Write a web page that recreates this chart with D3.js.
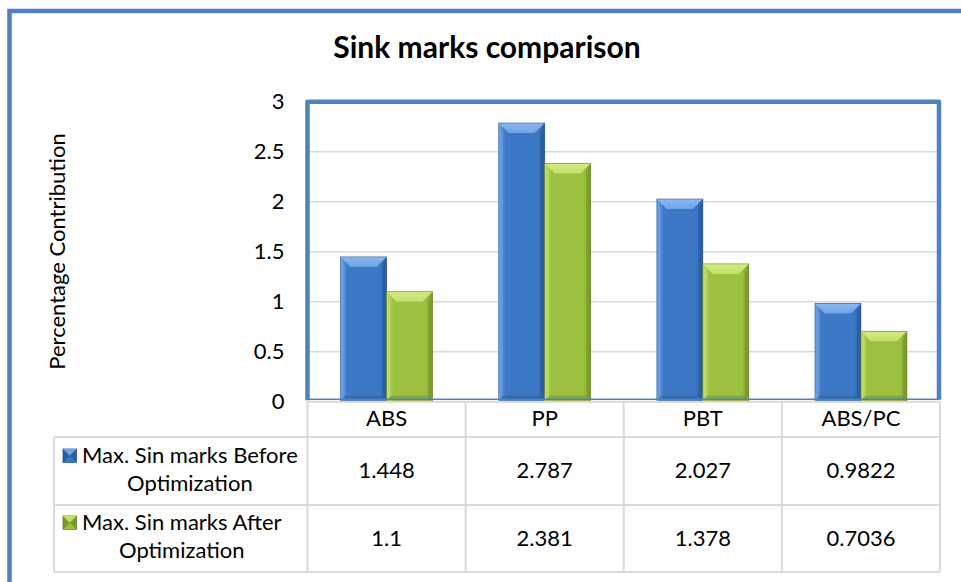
<!DOCTYPE html>
<html>
<head>
<meta charset="utf-8">
<script src="https://cdn.jsdelivr.net/npm/d3@7"></script>
<style>
  html, body { margin: 0; padding: 0; background: #fff; }
  svg { display: block; font-family: Lato, "Open Sans", sans-serif; }
</style>
</head>
<body>
<svg id="chart" width="961" height="582"></svg>
<script>
// Sink marks per material, before and after optimization
const categories = ["ABS", "PP", "PBT", "ABS/PC"];
const seriesKeys = ["before", "after"];
const seriesLabels = [
  ["Max. Sin marks Before", "Optimization"],
  ["Max. Sin marks After", "Optimization"]
];
const beforeValues = [1.448, 2.787, 2.027, 0.9822];
const afterValues = [1.1, 2.381, 1.378, 0.7036];
const yTicks = [0, 0.5, 1, 1.5, 2, 2.5, 3];
const chartTitle = "Sink marks comparison";
const yTitle = "Percentage Contribution";

const seriesValues = { before: beforeValues, after: afterValues };
const palette = {
  before: { main: "#3b78c6", light: "#6fa3e6", lightTop: "#8cb8f0", dark: "#2b5d9f", edge: "#25538e" },
  after:  { main: "#9cc040", light: "#c2df6a", lightTop: "#d4ec82", dark: "#7a9a2a", edge: "#5f7d1c" }
};

const svg = d3.select("#chart");
const plot = { left: 307.5, right: 939, top: 101.7, bottom: 401.7 };
const table = { left: 54, headerBottom: 437, row1Bottom: 505, row2Bottom: 572 };
const fs = 22;
const gridGray = "#d9d9d9";
const blue = "#4f81bd";

// gradients
const defs = svg.append("defs");
seriesKeys.forEach(k => {
  const c = palette[k];
  const g = defs.append("linearGradient").attr("id", "body-" + k)
    .attr("x1", 0).attr("x2", 1).attr("y1", 0).attr("y2", 0);
  g.append("stop").attr("offset", 0).attr("stop-color", c.light);
  g.append("stop").attr("offset", 0.15).attr("stop-color", c.main);
  g.append("stop").attr("offset", 0.85).attr("stop-color", c.main);
  g.append("stop").attr("offset", 1).attr("stop-color", c.dark);
  const t = defs.append("linearGradient").attr("id", "top-" + k)
    .attr("x1", 0).attr("x2", 0).attr("y1", 0).attr("y2", 1);
  t.append("stop").attr("offset", 0).attr("stop-color", c.lightTop);
  t.append("stop").attr("offset", 1).attr("stop-color", c.light);
});

// outer chart frame
svg.append("rect")
  .attr("x", 9.5).attr("y", 11).attr("width", 1200).attr("height", 1200)
  .attr("fill", "#fff").attr("stroke", blue).attr("stroke-width", 4.5);

// title
svg.append("text")
  .attr("x", 487).attr("y", 58)
  .attr("text-anchor", "middle")
  .attr("font-weight", "bold")
  .attr("font-size", 30)
  .attr("fill", "#000")
  .text(chartTitle);

// scales
const y = d3.scaleLinear().domain([0, 3]).range([plot.bottom, plot.top]);
const x0 = d3.scaleBand().domain(categories).range([plot.left, plot.right + 1]).padding(0);
const x1 = d3.scaleBand().domain(seriesKeys).range([0, x0.bandwidth()])
  .paddingInner(0).paddingOuter(0.72);

// gridlines
svg.append("g").selectAll("line")
  .data(yTicks.filter(d => d > 0 && d < 3))
  .join("line")
  .attr("x1", plot.left).attr("x2", plot.right)
  .attr("y1", d => y(d)).attr("y2", d => y(d))
  .attr("stroke", gridGray).attr("stroke-width", 1.5);

// y axis labels
const yAxis = svg.append("g")
  .attr("transform", `translate(${plot.left},0)`)
  .call(d3.axisLeft(y).tickValues(yTicks).tickFormat(d3.format("~g")).tickSize(0).tickPadding(23));
yAxis.select(".domain").remove();
yAxis.selectAll("text").attr("font-size", fs).attr("font-family", "Lato, sans-serif").attr("fill", "#000");

// y title
svg.append("text")
  .attr("transform", `translate(65,${(133 + 370) / 2}) rotate(-90)`)
  .attr("text-anchor", "middle")
  .attr("font-size", 22)
  .attr("fill", "#000")
  .text(yTitle);

// bars with bevelled faces
const barData = [];
categories.forEach((c, i) => {
  seriesKeys.forEach(k => barData.push({ cat: c, key: k, value: seriesValues[k][i] }));
});

svg.append("g").selectAll("g")
  .data(barData)
  .join("g")
  .each(function(d) {
    const g = d3.select(this);
    const bx = x0(d.cat) + x1(d.key);
    const bw = x1.bandwidth();
    const by = y(d.value);
    const bh = y(0) - by;
    const c = palette[d.key];
    const bev = 10, side = 4, bot = 6;
    g.append("rect").attr("x", bx).attr("y", by).attr("width", bw).attr("height", bh)
      .attr("fill", `url(#body-${d.key})`);
    // bottom face
    g.append("polygon")
      .attr("points", [[bx, by + bh], [bx + side, by + bh - bot], [bx + bw - side, by + bh - bot], [bx + bw, by + bh]].join(" "))
      .attr("fill", c.dark).attr("opacity", 0.6);
    // left face
    g.append("polygon")
      .attr("points", [[bx, by], [bx + side, by + bev], [bx + side, by + bh - bot], [bx, by + bh]].join(" "))
      .attr("fill", c.light).attr("opacity", 0.5);
    // right face
    g.append("polygon")
      .attr("points", [[bx + bw, by], [bx + bw - side, by + bev], [bx + bw - side, by + bh - bot], [bx + bw, by + bh]].join(" "))
      .attr("fill", c.dark).attr("opacity", 0.8);
    // top face
    g.append("polygon")
      .attr("points", [[bx, by], [bx + bw, by], [bx + bw - bev, by + bev], [bx + bev, by + bev]].join(" "))
      .attr("fill", `url(#top-${d.key})`);
    // outline
    g.append("rect").attr("x", bx).attr("y", by).attr("width", bw).attr("height", bh)
      .attr("fill", "none").attr("stroke", c.edge).attr("stroke-width", 0.8).attr("stroke-opacity", 0.7);
  });

// plot area frame
svg.append("path")
  .attr("d", `M${plot.left},${plot.bottom - 1.5} V${plot.top} H${plot.right} V${plot.bottom - 2}`)
  .attr("fill", "none").attr("stroke", blue).attr("stroke-width", 4.5).attr("stroke-linejoin", "round");
svg.append("line")
  .attr("x1", plot.left).attr("x2", plot.right)
  .attr("y1", plot.bottom - 2.5).attr("y2", plot.bottom - 2.5)
  .attr("stroke", blue).attr("stroke-width", 1.5);

// data table grid
const colEdges = categories.map(c => x0(c)).concat([x0(categories[categories.length - 1]) + x0.bandwidth()]);
const tableRight = colEdges[colEdges.length - 1];
const grid = svg.append("g").attr("stroke", gridGray).attr("stroke-width", 2).attr("fill", "none");
grid.append("line").attr("x1", plot.left).attr("x2", tableRight)
  .attr("y1", plot.bottom).attr("y2", plot.bottom);
[table.headerBottom, table.row1Bottom, table.row2Bottom].forEach(yy => {
  grid.append("line").attr("x1", table.left).attr("x2", tableRight)
    .attr("y1", yy).attr("y2", yy);
});
grid.selectAll("line.col").data(colEdges).join("line").attr("class", "col")
  .attr("x1", d => d).attr("x2", d => d)
  .attr("y1", plot.bottom).attr("y2", table.row2Bottom);
grid.append("line").attr("x1", table.left).attr("x2", table.left)
  .attr("y1", table.headerBottom).attr("y2", table.row2Bottom);

// category header row
const xAxis = svg.append("g")
  .attr("transform", `translate(0,${plot.bottom})`)
  .call(d3.axisBottom(x0).tickSize(0).tickPadding(8.5));
xAxis.select(".domain").remove();
xAxis.selectAll("text").attr("font-size", fs).attr("font-family", "Lato, sans-serif").attr("fill", "#000");

// value rows
const rowMid = [(table.headerBottom + table.row1Bottom) / 2, (table.row1Bottom + table.row2Bottom) / 2];
seriesKeys.forEach((k, r) => {
  svg.append("g").selectAll("text")
    .data(categories.map((c, i) => ({ cat: c, v: seriesValues[k][i] })))
    .join("text")
    .attr("x", d => x0(d.cat) + x0.bandwidth() / 2)
    .attr("y", rowMid[r])
    .attr("dy", "0.33em")
    .attr("text-anchor", "middle")
    .attr("font-size", fs)
    .attr("fill", "#000")
    .text(d => String(d.v));
});

// legend keys inside the table
seriesKeys.forEach((k, r) => {
  const c = palette[k];
  const g = svg.append("g");
  const textLeft = 82;
  const lines = seriesLabels[r];
  const tmp = g.selectAll("text").data(lines).join("text")
    .attr("font-size", fs).attr("fill", "#000").attr("text-anchor", "middle")
    .text(d => d);
  const widths = [];
  tmp.each(function() { widths.push(this.getComputedTextLength()); });
  const blockMid = textLeft + d3.max(widths) / 2;
  const first = r === 0 ? 463 : 530;
  tmp.attr("x", blockMid).attr("y", (d, i) => first + i * 28);
  const firstLeft = blockMid - widths[0] / 2;
  const ks = 13.5, kx = firstLeft - 19, ky = first - 14;
  g.append("rect").attr("x", kx).attr("y", ky).attr("width", ks).attr("height", ks)
    .attr("fill", c.dark).attr("stroke", c.edge).attr("stroke-width", 0.8);
  g.append("polygon")
    .attr("points", [[kx, ky], [kx + ks, ky], [kx + ks / 2, ky + ks / 2]].join(" "))
    .attr("fill", c.light);
  g.append("polygon")
    .attr("points", [[kx, ky + ks], [kx + ks, ky + ks], [kx + ks / 2, ky + ks / 2]].join(" "))
    .attr("fill", c.main);
});
</script>
</body>
</html>
